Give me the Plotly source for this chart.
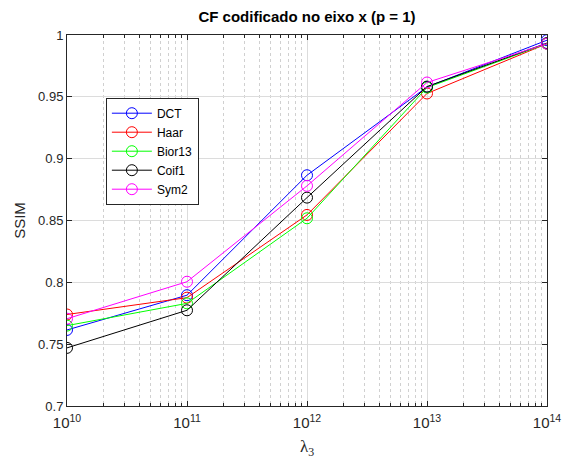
import plotly.graph_objects as go

lambdas = [1e10, 1e11, 1e12, 1e13, 1e14]
series_names = ["DCT", "Haar", "Bior13", "Coif1", "Sym2"]
dct = [0.7615, 0.7896, 0.8866, 0.9580, 0.9958]
haar = [0.7740, 0.7876, 0.8545, 0.9527, 0.9930]
bior13 = [0.7650, 0.7830, 0.8518, 0.9575, 0.9930]
coif1 = [0.7470, 0.7774, 0.8685, 0.9583, 0.9935]
sym2 = [0.7706, 0.8005, 0.8780, 0.9616, 0.9930]
colors = ["#0000ff", "#ff0000", "#00ff00", "#000000", "#ff00ff"]

y_ticks = [0.7, 0.75, 0.8, 0.85, 0.9, 0.95, 1.0]
y_labels = ["0.7", "0.75", "0.8", "0.85", "0.9", "0.95", "1"]
x_ticks = [1e10, 1e11, 1e12, 1e13, 1e14]
x_labels = ["10<sup>10</sup>", "10<sup>11</sup>", "10<sup>12</sup>", "10<sup>13</sup>", "10<sup>14</sup>"]

fig = go.Figure()
for name, vals, c in zip(series_names, [dct, haar, bior13, coif1, sym2], colors):
    fig.add_trace(go.Scatter(
        x=lambdas, y=vals, name=name, mode="lines+markers",
        line=dict(color=c, width=1),
        marker=dict(symbol="circle-open", size=11, color=c, line=dict(width=1, color=c)),
    ))

axis_common = dict(
    showline=True, linecolor="#262626", linewidth=1, mirror="ticks",
    ticks="inside", ticklen=5, tickcolor="#262626",
    showgrid=True, gridcolor="#dcdcdc", gridwidth=1,
    zeroline=False, automargin=False,
)

fig.update_layout(
    width=564, height=459,
    margin=dict(l=67, r=17, t=35, b=53),
    paper_bgcolor="white", plot_bgcolor="white",
    title=dict(text="<b>CF codificado no eixo x (p = 1)</b>", x=0.5, xref="paper",
               y=1 - 17 / 459, yanchor="middle",
               font=dict(family="Liberation Sans, Arial", size=15, color="#000000")),
    xaxis=dict(type="log", range=[10, 14], tickvals=x_ticks, ticktext=x_labels,
               tickfont=dict(family="Liberation Sans, Arial", size=15, color="#262626"),
               ticklabelstandoff=3,
               title=dict(text="λ<sub>3</sub>", font=dict(family="Liberation Serif, Times New Roman", size=17, color="#262626"), standoff=14),
               minor=dict(dtick="D1", showgrid=True, gridcolor="#d0d0d0", griddash="dot",
                          ticks="inside", ticklen=3, tickcolor="#262626"),
               **axis_common),
    yaxis=dict(range=[0.7, 1.0], tickvals=y_ticks, ticktext=y_labels,
               tickfont=dict(family="Liberation Sans, Arial", size=13, color="#262626"),
               title=dict(text="SSIM", font=dict(family="Liberation Sans, Arial", size=15, color="#262626"), standoff=8),
               **axis_common),
    legend=dict(x=0.081, y=0.831, xanchor="left", yanchor="top",
                bgcolor="white", bordercolor="#262626", borderwidth=1,
                font=dict(family="Liberation Sans, Arial", size=12, color="#000000"),
                tracegroupgap=0, itemwidth=40),
    showlegend=True,
)

fig.write_html("out.html")
